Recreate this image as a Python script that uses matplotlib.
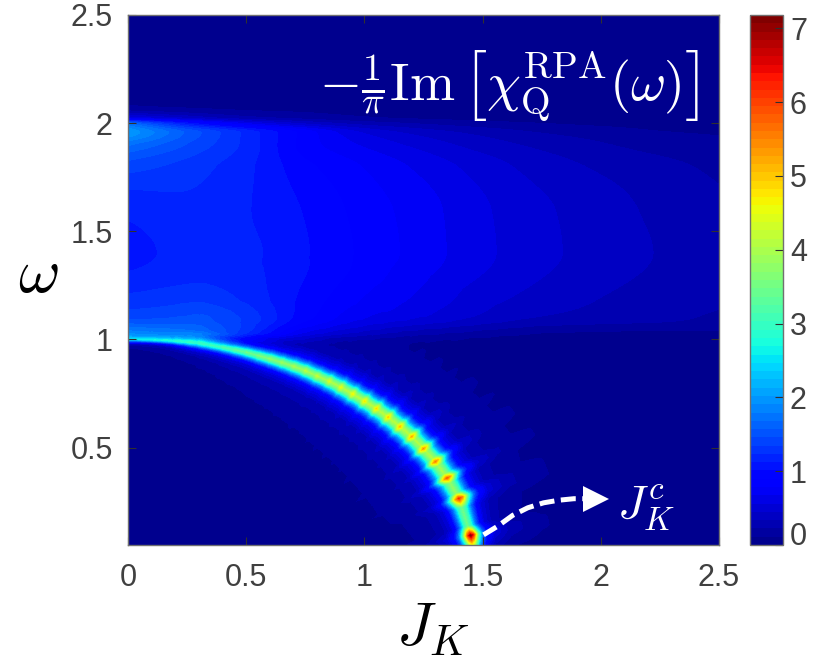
import numpy as np
import matplotlib
matplotlib.use("Agg")
import matplotlib.pyplot as plt
from matplotlib.colors import ListedColormap

plt.rcParams["font.family"] = ["Liberation Sans", "DejaVu Sans"]
plt.rcParams["mathtext.fontset"] = "cm"

# broad continuum, rows = omega, columns = J_K
bg_J = [0, 0.25, 0.5, 0.75, 1, 1.25, 1.5, 1.75, 2, 2.25, 2.5]
bg_w = [0.0, 0.5, 0.97, 1.0, 1.03, 1.1, 1.2, 1.4, 1.6, 1.8, 1.9, 1.96, 2.0, 2.03, 2.08, 2.2, 2.55]
bg_z = [
    [0] * 11,
    [0] * 11,
    [0] * 11,
    [1.0, 0.9, 0.4, 0.2, 0.1, 0.07, 0.05, 0.04, 0.03, 0.03, 0.03],
    [1.7, 1.5, 1.0, 0.5, 0.3, 0.2, 0.15, 0.12, 0.1, 0.09, 0.1],
    [1.4, 1.4, 1.2, 0.82, 0.6, 0.5, 0.4, 0.33, 0.29, 0.26, 0.2],
    [1.25, 1.28, 1.15, 0.92, 0.74, 0.62, 0.5, 0.41, 0.34, 0.29, 0.25],
    [1.08, 1.15, 1.14, 1.02, 0.87, 0.73, 0.59, 0.48, 0.4, 0.33, 0.27],
    [1.15, 1.2, 1.13, 1.0, 0.85, 0.72, 0.58, 0.47, 0.39, 0.31, 0.25],
    [1.4, 1.3, 1.15, 0.93, 0.78, 0.64, 0.51, 0.4, 0.32, 0.26, 0.2],
    [1.7, 1.45, 1.2, 0.85, 0.66, 0.52, 0.4, 0.31, 0.24, 0.18, 0.14],
    [2.0, 1.55, 1.2, 0.85, 0.55, 0.4, 0.3, 0.22, 0.17, 0.12, 0.1],
    [1.7, 1.1, 0.7, 0.45, 0.3, 0.22, 0.16, 0.12, 0.09, 0.07, 0.05],
    [0.6, 0.4, 0.25, 0.18, 0.12, 0.09, 0.07, 0.05, 0.04, 0.03, 0.02],
    [0.12, 0.1, 0.08, 0.07, 0.05, 0.04, 0.03, 0.02, 0.02, 0.01, 0.01],
    [0.02] * 11,
    [0.0] * 11,
]

# the sharp resonance: spots every 0.05 in J_K
ridge_J = [0, 0.05, 0.1, 0.15, 0.2, 0.25, 0.3, 0.35, 0.4, 0.45, 0.5, 0.55, 0.6, 0.65, 0.7,
           0.75, 0.8, 0.85, 0.9, 0.95, 1.0, 1.05, 1.1, 1.15, 1.2, 1.25, 1.3, 1.35, 1.4, 1.45]
ridge_w = [1.0, 0.999, 0.997, 0.994, 0.99, 0.985, 0.98, 0.972, 0.963, 0.952, 0.94, 0.925, 0.91, 0.893, 0.875,
           0.855, 0.83, 0.806, 0.778, 0.747, 0.714, 0.679, 0.64, 0.596, 0.55, 0.494, 0.434, 0.358, 0.264, 0.093]
ridge_peak = [1.6, 1.7, 1.85, 2.05, 2.3, 2.6, 2.9, 3.1, 3.25, 3.4, 3.55, 3.7, 3.85, 3.95, 4.05,
              4.2, 4.3, 4.45, 4.6, 4.75, 4.85, 4.95, 5.05, 5.15, 5.3, 5.45, 5.65, 5.95, 6.3, 7.2]
ridge_between = [1.6, 1.75, 1.9, 2.1, 2.4, 2.7, 2.95, 3.1, 3.25, 3.4, 3.5, 3.65, 3.75, 3.8, 3.9,
                 3.95, 4.0, 4.05, 4.1, 4.1, 4.15, 4.15, 4.15, 4.15, 4.1, 4.05, 3.95, 3.8, 3.5]
ridge_hwhm = [0.013, 0.013, 0.014, 0.015, 0.017, 0.019, 0.021, 0.022, 0.024, 0.026, 0.027, 0.029, 0.031, 0.032, 0.034,
              0.035, 0.036, 0.037, 0.039, 0.04, 0.041, 0.042, 0.043, 0.044, 0.045, 0.046, 0.047, 0.048, 0.044, 0.034]
# where the ridge runs out through the bottom of the frame
tail_J, tail_w, tail_peak, tail_hwhm = 1.46, 0.02, 3.0, 0.034

# line shape across the ridge, distance in half widths
shape_d = [0, 0.4, 0.8, 1, 1.5, 2, 3, 5, 9, 16]
shape_f = [1, 0.86, 0.6, 0.48, 0.27, 0.16, 0.08, 0.04, 0.018, 0]

arrow_J = [1.504, 1.564, 1.627, 1.691, 1.758, 1.822, 1.886, 1.95]
arrow_w = [0.097, 0.137, 0.187, 0.222, 0.245, 0.257, 0.264, 0.264]
arrow_tip = (1.98, 0.264)

x_ticks = [0, 0.5, 1, 1.5, 2, 2.5]
y_ticks = [0.5, 1, 1.5, 2, 2.5]
cb_ticks = [0, 1, 2, 3, 4, 5, 6, 7]


def smooth_resample(xnew, xp, yp):
    # monotone cubic along axis 0, no overshoot at the sharp edges of the table
    xp, yp = np.asarray(xp, float), np.asarray(yp, float)
    h = np.diff(xp)[:, None]
    s = np.diff(yp, axis=0) / h
    m = np.zeros_like(yp)
    same = s[:-1] * s[1:] > 0
    m[1:-1][same] = (2 * s[:-1] * s[1:] / (s[:-1] + s[1:] + 1e-12))[same]
    m[0], m[-1] = s[0], s[-1]
    i = np.clip(np.searchsorted(xp, xnew) - 1, 0, len(h) - 1)
    t = ((xnew - xp[i]) / h[i, 0])[:, None]
    return ((2 * t**3 - 3 * t**2 + 1) * yp[i] + (t**3 - 2 * t**2 + t) * h[i] * m[i]
            + (-2 * t**3 + 3 * t**2) * yp[i + 1] + (t**3 - t**2) * h[i] * m[i + 1])


# pixel grid for the image
xs, ys = np.linspace(0, 2.5, 591), np.linspace(0.05, 2.5, 530)
xx, yy = np.meshgrid(xs, ys)

z_bg = smooth_resample(xs, bg_J, np.array(bg_z, dtype=float).T).T
z_bg = smooth_resample(ys, bg_w, z_bg)

# walk along the ridge: spot, then three steps at the level between spots
rj, rw, rp, rh = [-0.05], [1.0], [1.6], [0.013]
for i in range(len(ridge_J)):
    rj.append(ridge_J[i]); rw.append(ridge_w[i]); rp.append(ridge_peak[i]); rh.append(ridge_hwhm[i])
    if i < len(ridge_between):
        for t in (0.25, 0.5, 0.75):
            rj.append(ridge_J[i] + t * (ridge_J[i + 1] - ridge_J[i]))
            rw.append(ridge_w[i] + t * (ridge_w[i + 1] - ridge_w[i]))
            rp.append(ridge_between[i])
            rh.append(ridge_hwhm[i] + t * (ridge_hwhm[i + 1] - ridge_hwhm[i]))
rj.append(tail_J); rw.append(tail_w); rp.append(tail_peak); rh.append(tail_hwhm)

# for each pixel the nearest place on the ridge
best = np.full(xx.shape, np.inf)
pk = np.zeros(xx.shape)
hw = np.ones(xx.shape)
for i in range(len(rj) - 1):
    dx, dy = rj[i + 1] - rj[i], rw[i + 1] - rw[i]
    t = np.clip(((xx - rj[i]) * dx + (yy - rw[i]) * dy) / (dx**2 + dy**2), 0, 1)
    dist = np.hypot(xx - rj[i] - t * dx, yy - rw[i] - t * dy)
    near = dist < best
    best[near] = dist[near]
    pk[near] = (rp[i] + t * (rp[i + 1] - rp[i]))[near]
    hw[near] = (rh[i] + t * (rh[i + 1] - rh[i]))[near]
z_r = pk * np.interp(best / hw, shape_d, shape_f)

field = z_bg + z_r

# jet in 64 steps, navy end a bit lighter as in the reference
cols = plt.get_cmap("jet", 64)(np.arange(64))
cols[:7, 2] = np.maximum(cols[:7, 2], np.linspace(0.56, 0.97, 7))
cmap = ListedColormap(cols)

fig = plt.figure(figsize=(8.31, 6.63), dpi=100)
W, H = 831, 663
ax = fig.add_axes([128 / W, 1 - 545 / H, 591 / W, 530 / H])
im = ax.imshow(field, origin="lower", extent=[0, 2.5, 0.05, 2.5], aspect="auto",
               cmap=cmap, vmin=0, vmax=7.18, interpolation="bilinear",
               interpolation_stage="data")

ax.plot(arrow_J, arrow_w, color="white", lw=3.6, dashes=(3.0, 1.3))
ax.plot([arrow_tip[0]], [arrow_tip[1]], marker=">", color="white", ms=19, mew=0, ls="none")

ax.set_xlim(0, 2.5)
ax.set_ylim(0.05, 2.5)
ax.set_xticks(x_ticks)
ax.set_xticklabels(["0", "0.5", "1", "1.5", "2", "2.5"])
ax.set_yticks(y_ticks)
ax.set_yticklabels(["0.5", "1", "1.5", "2", "2.5"])
ax.tick_params(direction="in", top=True, right=True, length=5.5, width=0.8, color="#303030",
               labelsize=22, labelcolor="#404040", pad=11)
ax.tick_params(axis="x", pad=13)
for s in ax.spines.values():
    s.set_color("#707070")
    s.set_linewidth(1.0)

cax = fig.add_axes([750 / W, 1 - 545 / H, 33 / W, 530 / H])
cb = fig.colorbar(im, cax=cax)
cb.set_ticks(cb_ticks)
cb.ax.tick_params(direction="in", length=5.5, width=0.8, color="#303030",
                  labelsize=22, labelcolor="#404040", pad=5)
cb.ax.get_yticklabels()[0].set_va("baseline")
cb.outline.set_edgecolor("#707070")
cb.outline.set_linewidth(1.0)

fig.text(38 / W, 1 - 275 / H, r"$\omega$", fontsize=46, color="black", ha="center", va="center")
fig.text(433 / W, 1 - 630 / H, r"$J_K$", fontsize=44, color="black", ha="center", va="center")
fig.text(509 / W, 1 - 85 / H, r"$-\frac{1}{\pi}\mathrm{Im}\,\left[\chi_{\mathrm{Q}}^{\mathrm{RPA}}(\omega)\right]$",
         fontsize=39, color="white", ha="center", va="center")
fig.text(646 / W, 1 - 508 / H, r"$J_K^c$", fontsize=34, color="white", ha="center", va="center")

fig.savefig("out.png", dpi=100)
